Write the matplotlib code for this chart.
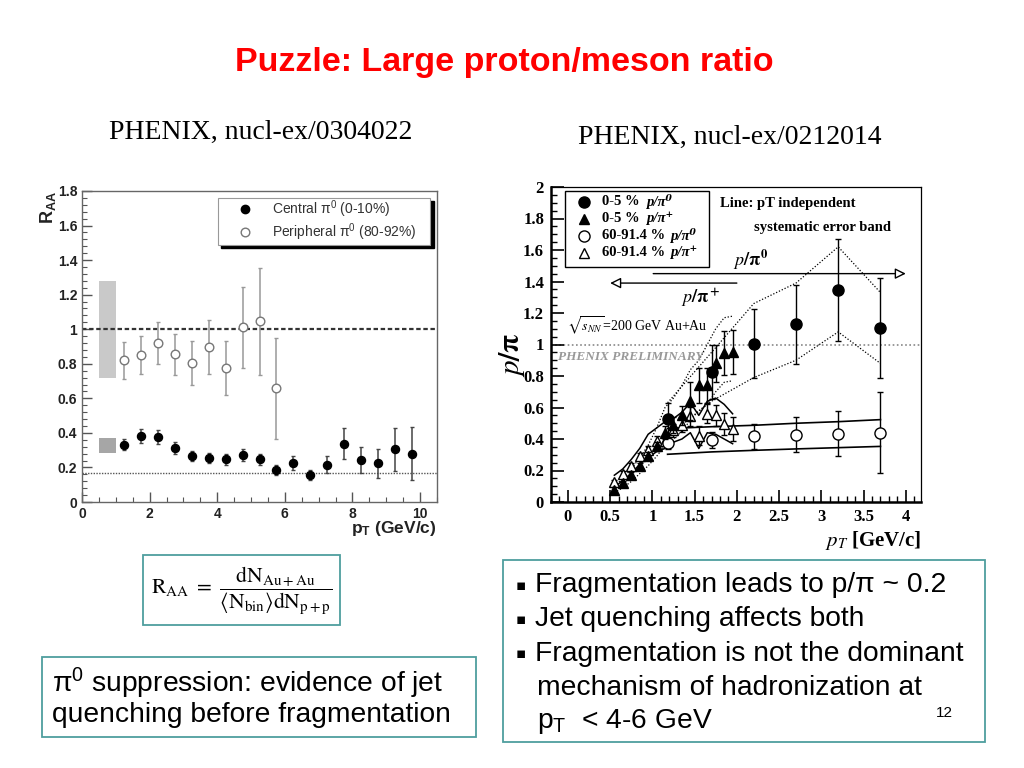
import matplotlib
matplotlib.use("Agg")
import matplotlib.pyplot as plt
from matplotlib.patches import Rectangle
from matplotlib.ticker import MultipleLocator
import numpy as np

plt.rcParams['mathtext.fontset'] = 'custom'
plt.rcParams['mathtext.rm'] = 'Liberation Sans'
plt.rcParams['mathtext.it'] = 'Liberation Sans:italic'
plt.rcParams['mathtext.bf'] = 'Liberation Sans:bold'
plt.rcParams['font.family'] = ['Liberation Sans', 'DejaVu Sans']

# ---------------- data: left panel (R_AA) ----------------
cent_x = [1.25, 1.75, 2.25, 2.75, 3.25, 3.75, 4.25, 4.75, 5.25, 5.75,
          6.25, 6.75, 7.25, 7.75, 8.25, 8.75, 9.25, 9.75]
cent_y = [0.332, 0.38, 0.377, 0.31, 0.265, 0.253, 0.247, 0.27, 0.247, 0.187,
          0.228, 0.155, 0.216, 0.336, 0.245, 0.224, 0.305, 0.28]
cent_err = [0.03, 0.04, 0.04, 0.035, 0.03, 0.03, 0.03, 0.035, 0.03, 0.03,
            0.04, 0.03, 0.05, 0.09, 0.075, 0.083, 0.124, 0.155]
peri_x = [1.25, 1.75, 2.25, 2.75, 3.25, 3.75, 4.25, 4.75, 5.25, 5.75]
peri_y = [0.819, 0.85, 0.921, 0.854, 0.805, 0.896, 0.776, 1.012, 1.047, 0.657]
peri_err = [0.108, 0.11, 0.122, 0.12, 0.125, 0.155, 0.158, 0.235, 0.31, 0.295]
left_xticks = [0, 2, 4, 6, 8, 10]
left_xlabels = ['0', '2', '4', '6', '8', '10']
left_yticks = [0, 0.2, 0.4, 0.6, 0.8, 1.0, 1.2, 1.4, 1.6, 1.8]
left_ylabels = ['0', '0.2', '0.4', '0.6', '0.8', '1', '1.2', '1.4', '1.6', '1.8']
left_legend = [r'Central π$^0$ (0-10%)', r'Peripheral π$^0$ (80-92%)']
peri_sys = (0.72, 1.28)
cent_sys = (0.285, 0.37)
ncoll_line = 0.17

# ---------------- data: right panel (p/pi) ----------------
ptri_x = [0.55, 0.65, 0.75, 0.85, 0.95, 1.05, 1.15, 1.25, 1.35, 1.45,
          1.55, 1.65, 1.75, 1.85, 1.95]
ftri_y = [0.078, 0.12, 0.17, 0.226, 0.29, 0.353, 0.44, 0.49, 0.55, 0.64,
          0.74, 0.74, 0.88, 0.945, 0.955]
ftri_err = [0.015, 0.015, 0.02, 0.02, 0.025, 0.03, 0.04, 0.05, 0.06, 0.12,
            0.11, 0.11, 0.12, 0.14, 0.14]
otri_y = [0.127, 0.18, 0.226, 0.292, 0.332, 0.387, 0.39, 0.455, 0.49, 0.545,
          0.42, 0.56, 0.55, 0.495, 0.465]
otri_err = [0.015, 0.015, 0.02, 0.02, 0.025, 0.03, 0.035, 0.04, 0.045, 0.06,
            0.06, 0.06, 0.065, 0.07, 0.075]
pcir_x = [1.18, 1.7, 2.2, 2.7, 3.2, 3.7]
fcir_y = [0.529, 0.825, 1.005, 1.128, 1.348, 1.105]
fcir_err = [0.1, 0.17, 0.22, 0.25, 0.325, 0.32]
ocir_y = [0.375, 0.396, 0.417, 0.427, 0.434, 0.44]
ocir_err = [0.04, 0.05, 0.08, 0.11, 0.144, 0.257]

# systematic error bands
ocir_band_hi = [0.466, 0.478, 0.487, 0.5, 0.51, 0.523]
ocir_band_lo = [0.303, 0.318, 0.328, 0.337, 0.345, 0.353]
fcir_band_hi = [0.63, 0.95, 1.26, 1.39, 1.62, 1.33]
fcir_band_lo = [0.42, 0.64, 0.79, 0.9, 1.08, 0.88]
otri_band_hi = [0.17, 0.21, 0.27, 0.34, 0.43, 0.47, 0.51, 0.53, 0.57, 0.63,
                0.55, 0.64, 0.66, 0.62, 0.56]
otri_band_lo = [0.09, 0.14, 0.18, 0.24, 0.28, 0.32, 0.34, 0.38, 0.40, 0.44,
                0.34, 0.44, 0.43, 0.40, 0.37]
ftri_band_hi = [0.10, 0.15, 0.21, 0.28, 0.36, 0.47, 0.60, 0.66, 0.74, 0.84,
                0.90, 1.0, 1.1, 1.17, 1.18]
ftri_band_lo = [0.06, 0.09, 0.13, 0.18, 0.23, 0.29, 0.36, 0.40, 0.45, 0.52,
                0.58, 0.62, 0.70, 0.76, 0.77]
right_xticks = [0, 0.5, 1, 1.5, 2, 2.5, 3, 3.5, 4]
right_xlabels = ['0', '0.5', '1', '1.5', '2', '2.5', '3', '3.5', '4']
right_yticks = [0, 0.2, 0.4, 0.6, 0.8, 1.0, 1.2, 1.4, 1.6, 1.8, 2.0]
right_ylabels = ['0', '0.2', '0.4', '0.6', '0.8', '1', '1.2', '1.4', '1.6', '1.8', '2']
right_leg_cent = ['0-5 %', '0-5 %', '60-91.4 %', '60-91.4 %']
right_leg_ratio = ['p/π⁰', 'p/π⁺', 'p/π⁰', 'p/π⁺']

# ---------------- slide texts ----------------
title = 'Puzzle: Large proton/meson ratio'
ref_left = 'PHENIX, nucl-ex/0304022'
ref_right = 'PHENIX, nucl-ex/0212014'
box_left_lines = [r'π$^0$ suppression: evidence of jet', 'quenching before fragmentation']
bullets = ['Fragmentation leads to p/π ~ 0.2', 'Jet quenching affects both',
           'Fragmentation is not the dominant']
bullet_cont = ['mechanism of hadronization at', r'p$_\mathrm{T}$  < 4-6 GeV']
page_no = '12'

W, H = 1024, 768
fig = plt.figure(figsize=(W / 100, H / 100), dpi=100)
fig.patch.set_facecolor('white')


def fx(px):
    return px / W


def fy(py):
    return 1 - py / H


# ---------------- left panel ----------------
axL = fig.add_axes([fx(82), fy(502), fx(355), 311 / H])
axL.set_xlim(0, 10.5)
axL.set_ylim(0, 1.8)
axL.add_patch(Rectangle((0.5, peri_sys[0]), 0.5, peri_sys[1] - peri_sys[0],
                        color='#c9c9c9', lw=0, zorder=1))
axL.add_patch(Rectangle((0.5, cent_sys[0]), 0.5, cent_sys[1] - cent_sys[0],
                        color='#a6a6a6', lw=0, zorder=1))
axL.axhline(1.0, color='#333333', lw=1.6, ls=(0, (2, 1.2)), zorder=2)
axL.axhline(ncoll_line, color='#555555', lw=1.0, ls=(0, (1, 1)), zorder=2)
axL.errorbar(peri_x, peri_y, yerr=peri_err, fmt='o', ms=6.2, mfc='white',
             mec='#777777', mew=1.0, ecolor='#999999', elinewidth=1.1,
             capsize=1.5, zorder=3)
axL.errorbar(cent_x, cent_y, yerr=cent_err, fmt='o', ms=5.8, mfc='black',
             mec='black', ecolor='#444444', elinewidth=1.1, capsize=1.5, zorder=4)
axL.set_xticks(left_xticks, labels=left_xlabels)
axL.set_yticks(left_yticks, labels=left_ylabels)
axL.xaxis.set_minor_locator(MultipleLocator(0.5))
axL.yaxis.set_minor_locator(MultipleLocator(0.04))
axL.tick_params(which='both', direction='in', top=False, right=False,
                colors='#555555', labelcolor='#222222')
axL.tick_params(which='major', length=7, width=1)
axL.tick_params(which='minor', length=3.5, width=0.8)
for lab in axL.get_xticklabels() + axL.get_yticklabels():
    lab.set_fontweight('bold')
    lab.set_fontsize(10)
for s in axL.spines.values():
    s.set_color('#666666')
    s.set_linewidth(1.0)
# legend with shadow
lx0, lx1, ly0, ly1 = 4.02, 10.3, 1.487, 1.76
axL.add_patch(Rectangle((lx0 + 0.1, ly0 - 0.018), lx1 - lx0, ly1 - ly0,
                        facecolor='black', edgecolor='black', zorder=5))
axL.add_patch(Rectangle((lx0, ly0), lx1 - lx0, ly1 - ly0, facecolor='white',
                        edgecolor='#999999', lw=0.8, zorder=6))
axL.plot([4.82], [1.696], 'o', ms=6, color='black', zorder=7)
axL.plot([4.82], [1.5625], 'o', ms=6.2, mfc='white', mec='#777777', zorder=7)
axL.text(5.62, 1.696, left_legend[0], fontsize=10, color='#333333',
         va='center', zorder=7)
axL.text(5.62, 1.5625, left_legend[1], fontsize=10, color='#333333',
         va='center', zorder=7)
fig.text(fx(48), fy(207), r'R$_\mathbf{AA}$', rotation=90, fontsize=13,
         fontweight='bold', color='#222222', ha='center', va='center')
fig.text(fx(437), fy(529), r'p$_\mathbf{T}$ (GeV/c)', fontsize=12.5,
         fontweight='bold', color='#222222', ha='right', va='center')

# ---------------- right panel ----------------
axR = fig.add_axes([fx(551), fy(502), fx(370), 315 / H])
axR.set_xlim(-0.2, 4.18)
axR.set_ylim(0, 2)
axR.axhline(1.0, color='#888888', lw=1.2, ls=(0, (1, 1.5)), zorder=1)
axR.plot(pcir_x, ocir_band_hi, color='black', lw=1.2, zorder=2)
axR.plot(pcir_x, ocir_band_lo, color='black', lw=1.2, zorder=2)
axR.plot(pcir_x, fcir_band_hi, color='black', lw=0.9, ls=(0, (1, 1.5)), zorder=2)
axR.plot(pcir_x, fcir_band_lo, color='black', lw=0.9, ls=(0, (1, 1.5)), zorder=2)
axR.plot(ptri_x, otri_band_hi, color='black', lw=1.1, zorder=2)
axR.plot(ptri_x, otri_band_lo, color='black', lw=1.1, zorder=2)
axR.plot(ptri_x, ftri_band_hi, color='black', lw=0.9, ls=(0, (1, 1.5)), zorder=2)
axR.plot(ptri_x, ftri_band_lo, color='black', lw=0.9, ls=(0, (1, 1.5)), zorder=2)
ekw = dict(ecolor='black', elinewidth=1.0, capsize=2, capthick=1.0)
axR.errorbar(ptri_x, otri_y, yerr=otri_err, fmt='^', ms=7, mfc='white',
             mec='black', mew=1.0, zorder=3, **ekw)
axR.errorbar(ptri_x, ftri_y, yerr=ftri_err, fmt='^', ms=7, mfc='black',
             mec='black', zorder=4, **ekw)
axR.errorbar(pcir_x, ocir_y, yerr=ocir_err, fmt='o', ms=8, mfc='white',
             mec='black', mew=1.0, zorder=3, **ekw)
axR.errorbar(pcir_x, fcir_y, yerr=fcir_err, fmt='o', ms=8, mfc='black',
             mec='black', zorder=4, **ekw)
axR.set_xticks(right_xticks, labels=right_xlabels)
axR.set_yticks(right_yticks, labels=right_ylabels)
axR.xaxis.set_minor_locator(MultipleLocator(0.1))
axR.yaxis.set_minor_locator(MultipleLocator(0.05))
axR.tick_params(which='both', direction='in', top=False, right=False,
                colors='black')
axR.tick_params(which='major', length=9, width=1.2, pad=5)
axR.tick_params(which='minor', length=4.5, width=1.0)
for lab in axR.get_xticklabels() + axR.get_yticklabels():
    lab.set_fontweight('bold')
    lab.set_fontsize(12)
    lab.set_family('Liberation Serif')
for name, s in axR.spines.items():
    s.set_color('black')
    s.set_linewidth(1.8 if name in ('left', 'bottom') else 0.9)

# legend box
axR.add_patch(Rectangle((-0.03, 1.492), 1.706, 0.483, facecolor='white',
                        edgecolor='black', lw=1.0, zorder=6))
leg_y = [1.905, 1.800, 1.690, 1.583]
leg_mk = [('o', 'black'), ('^', 'black'), ('o', 'white'), ('^', 'white')]
leg_rx = [0.93, 0.93, 1.21, 1.21]
for yy, (m, fc), c1, c2, rx in zip(leg_y, leg_mk, right_leg_cent, right_leg_ratio, leg_rx):
    axR.plot([0.193], [yy], m, ms=8 if m == 'o' else 7.5, mfc=fc, mec='black',
             mew=1.0, zorder=7)
    axR.text(0.40, yy, c1, fontsize=10.5, fontweight='bold',
             family='Liberation Serif', va='center', zorder=7)
    axR.text(rx, yy, c2, fontsize=10.5, fontweight='bold', fontstyle='italic',
             va='center', zorder=7, family=['Liberation Serif', 'DejaVu Serif'])
axR.text(1.795, 1.898, 'Line: pT independent', fontsize=10.5, fontweight='bold',
         family='Liberation Serif', va='center')
axR.text(2.2, 1.746, 'systematic error band', fontsize=10.5, fontweight='bold',
         family='Liberation Serif', va='center')
axR.annotate('', xy=(4.0, 1.45), xytext=(1.01, 1.45),
             arrowprops=dict(arrowstyle='-|>', fc='white', ec='black', lw=1.0,
                             mutation_scale=16, shrinkA=0, shrinkB=0))
axR.annotate('', xy=(0.5, 1.39), xytext=(2.0, 1.39),
             arrowprops=dict(arrowstyle='-|>', fc='white', ec='black', lw=1.0,
                             mutation_scale=16, shrinkA=0, shrinkB=0))
axR.text(2.16, 1.535, r'$\mathbf{\mathit{p}/\pi^0}$', fontsize=13,
         ha='center', va='center', math_fontfamily='stix')
axR.text(1.57, 1.30, r'$\mathbf{\mathit{p}/\pi^+}$', fontsize=13,
         ha='center', va='center', math_fontfamily='stix')
axR.text(-0.01, 1.12, r'$\sqrt{s_{NN}}$=200 GeV Au+Au', fontsize=10,
         family='Liberation Serif', va='center', math_fontfamily='stix')
axR.text(-0.115, 0.92, 'PHENIX PRELIMINARY', fontsize=9.5, fontweight='bold',
         fontstyle='italic', color='#999999', family='Liberation Serif',
         va='center')
fig.text(fx(512), fy(355), r'$\mathbf{\mathit{p}/\pi}$', rotation=90,
         fontsize=21, ha='center', va='center', math_fontfamily='stix')
fig.text(fx(921), fy(541), r'$p_T$ [GeV/c]', fontsize=15, fontweight='bold',
         family='Liberation Serif', ha='right', va='center',
         math_fontfamily='stix')

# ---------------- slide text ----------------
fig.text(fx(504), fy(62), title, color='#ff0000', fontsize=24.5, fontweight='bold',
         ha='center', va='center')
fig.text(fx(261), fy(132), ref_left, fontsize=20, family='Liberation Serif',
         ha='center', va='center')
fig.text(fx(730), fy(137), ref_right, fontsize=20, family='Liberation Serif',
         ha='center', va='center')

teal = '#4e9e9e'
fig.patches.append(Rectangle((fx(143), fy(625)), fx(197), 70 / H, fill=False,
                             ec=teal, lw=1.3, transform=fig.transFigure))
fig.text(fx(242), fy(590),
         r'$\mathrm{R}_{\mathrm{AA}}\ =\ \dfrac{\mathrm{dN}_{\mathrm{Au+Au}}}{\langle\mathrm{N}_{\mathrm{bin}}\rangle\mathrm{dN}_{\mathrm{p+p}}}$',
         fontsize=15.5, ha='center', va='center', math_fontfamily='stix')

fig.patches.append(Rectangle((fx(42), fy(737)), fx(434), 80 / H, fill=False,
                             ec=teal, lw=1.3, transform=fig.transFigure))
for i, line in enumerate(box_left_lines):
    fig.text(fx(52), fy(683 + 32 * i), line, fontsize=20.3, ha='left',
             va='center')

fig.patches.append(Rectangle((fx(503), fy(742)), fx(482), 182 / H, fill=False,
                             ec=teal, lw=1.3, transform=fig.transFigure))
for i, line in enumerate(bullets):
    yy = fy(585 + 34.5 * i)
    fig.text(fx(516), yy, '▪', fontsize=11, ha='left', va='center',
             family=['DejaVu Sans'])
    fig.text(fx(535), yy, line, fontsize=20.3, ha='left', va='center')
for i, line in enumerate(bullet_cont):
    fig.text(fx(537), fy(688 + 33 * i), line, fontsize=20.3, ha='left',
             va='center')
fig.text(fx(944), fy(713), page_no, fontsize=11, ha='center', va='center')

fig.savefig('out.png', dpi=100, facecolor='white')
